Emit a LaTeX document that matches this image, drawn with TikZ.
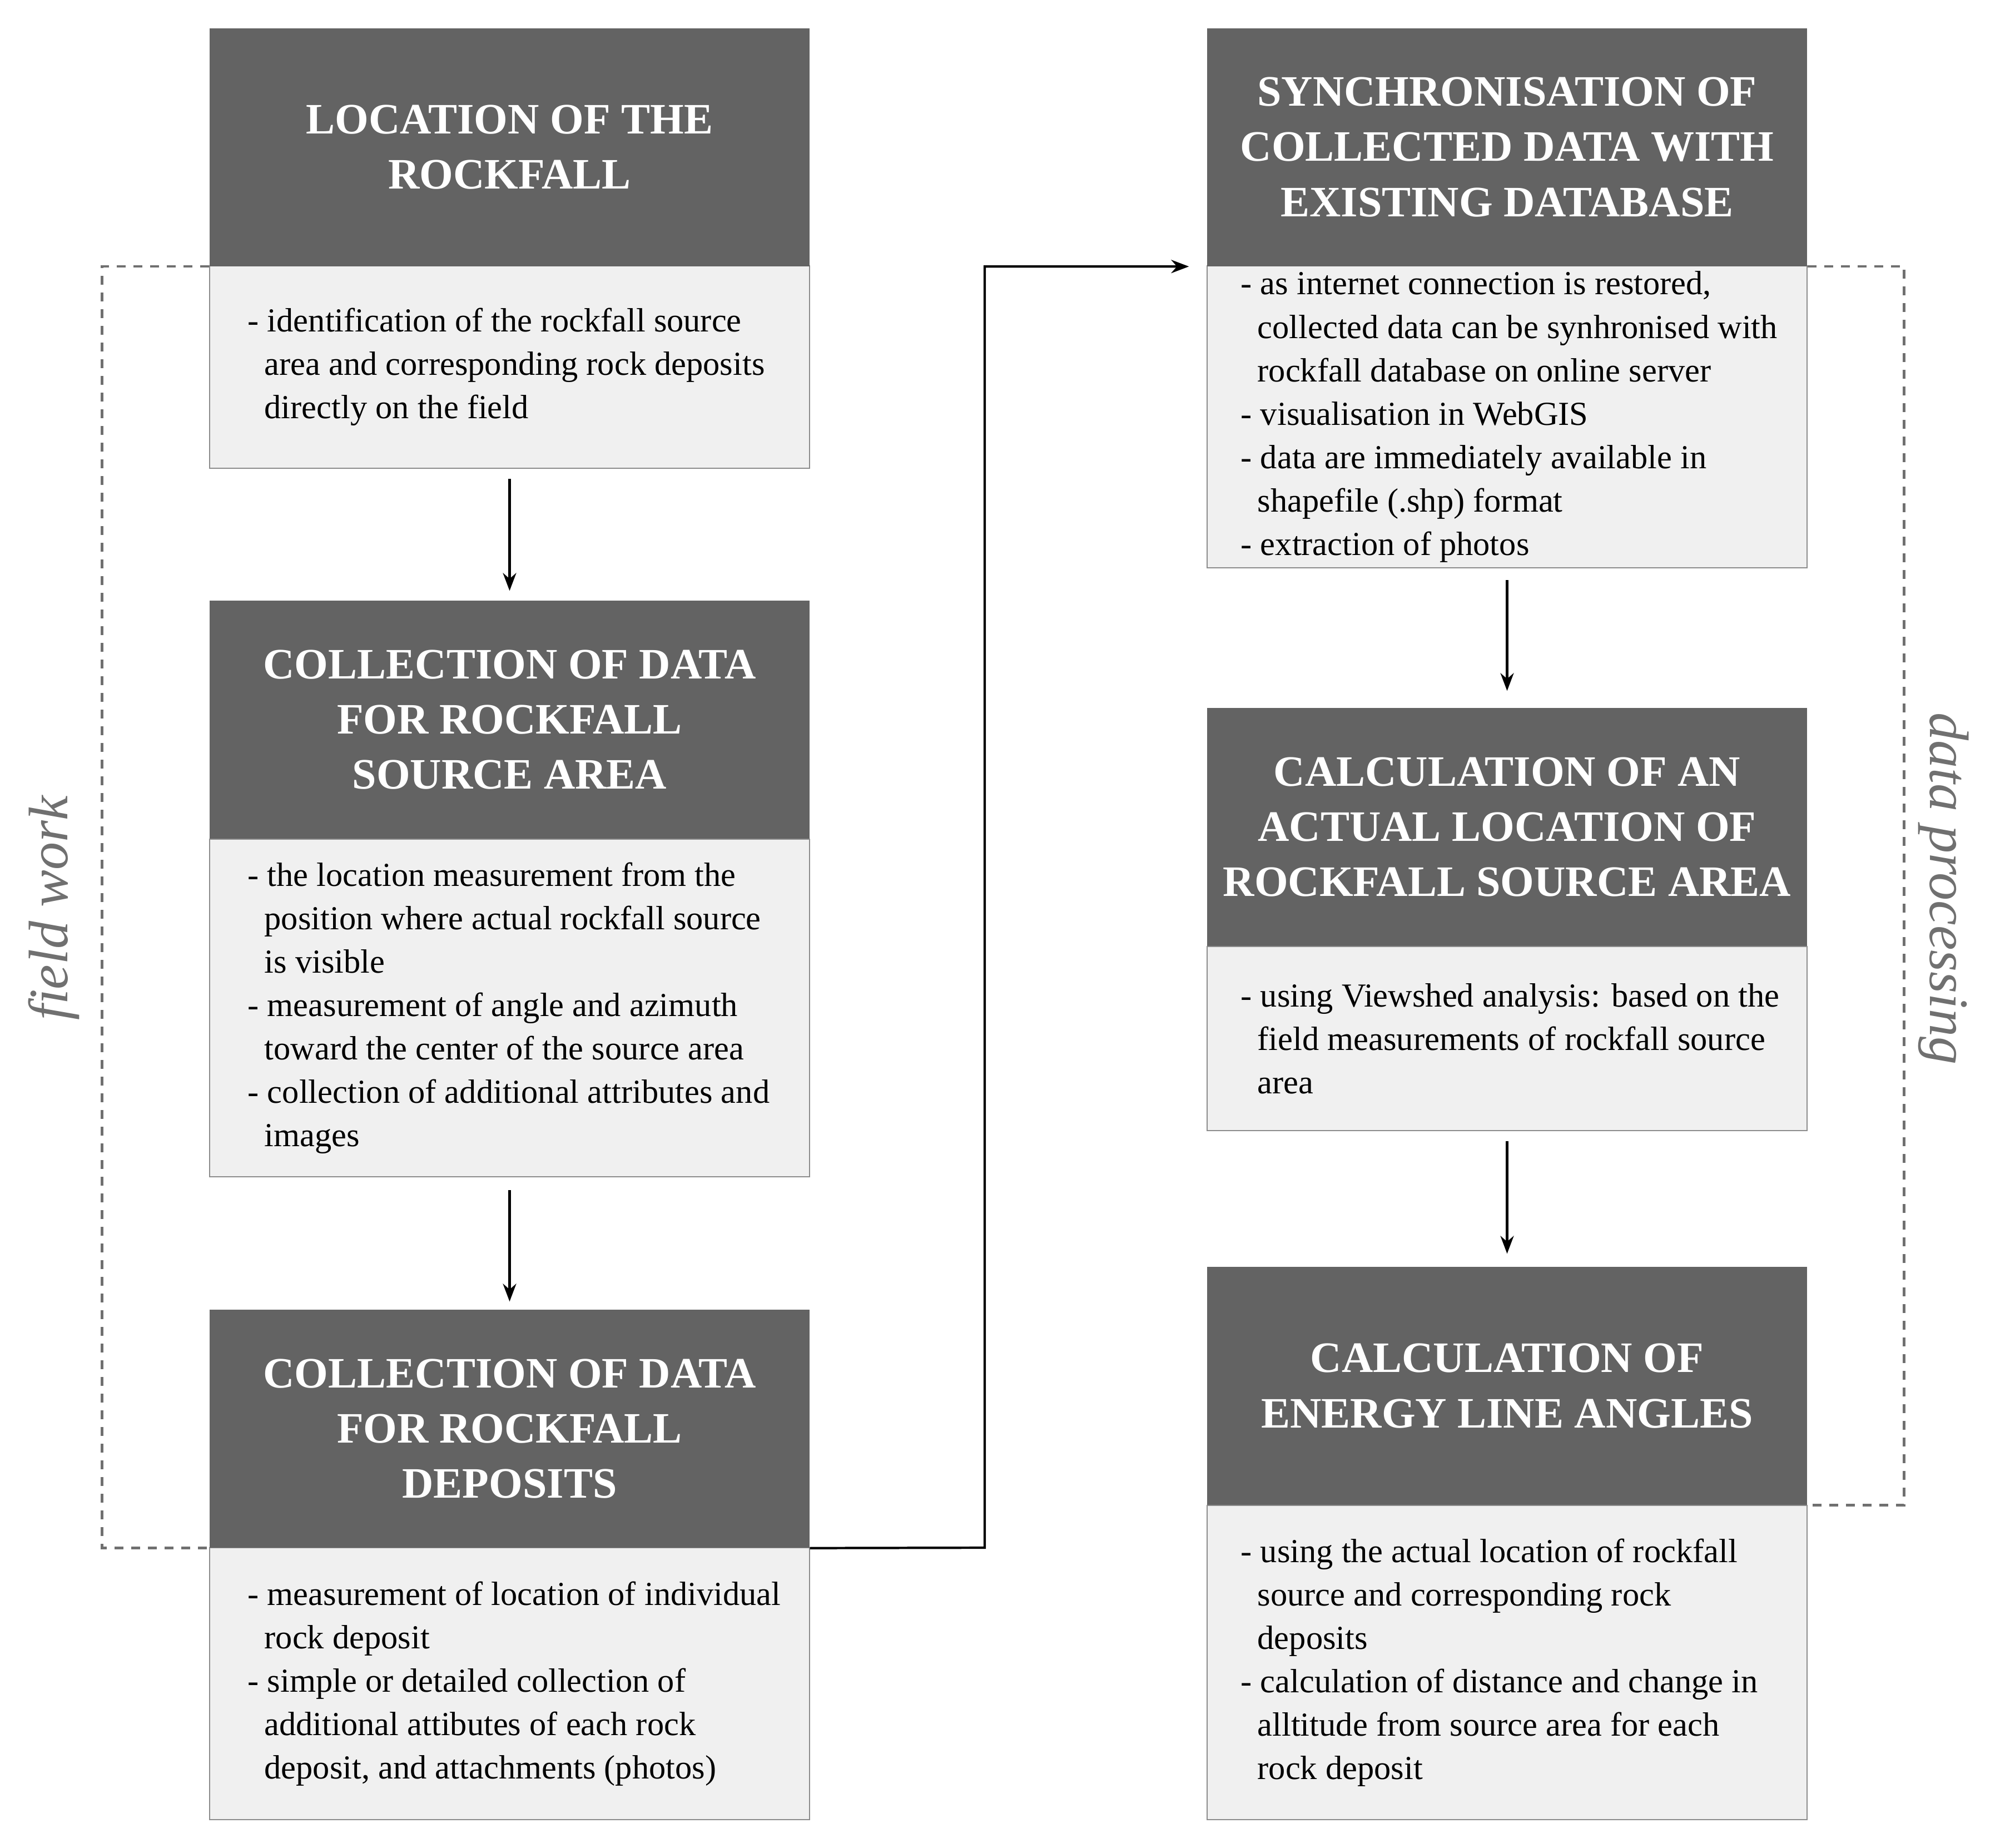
\documentclass[tikz,border=0pt]{standalone}
\usepackage{fontspec}
\setmainfont{Liberation Serif}
\usepackage{tikz}
\usetikzlibrary{arrows.meta}
\definecolor{hdrgray}{HTML}{636363}
\definecolor{bodygray}{HTML}{F0F0F0}
\definecolor{edgegray}{HTML}{8C8C8C}
\definecolor{zonegray}{HTML}{707070}
\newcommand{\ind}{\hspace*{0.3cm}}
\newcommand{\titlefont}{\fontsize{22.2}{28.2}\selectfont\bfseries}
\newcommand{\bodyfont}{\fontsize{17.2}{22.2}\selectfont}

\begin{document}
\begin{tikzpicture}[yscale=-1, >=Stealth,
  hdr/.style={fill=hdrgray, text=white, font=\titlefont, align=center, minimum width=10.79cm, minimum height=4.28cm, inner sep=0pt},
  bodybox/.style={fill=bodygray, draw=edgegray, line width=0.8pt, minimum width=10.79cm, inner sep=0pt},
  txt/.style={anchor=west, align=left, font=\bodyfont, inner sep=0pt},
  flow/.style={-{Stealth[length=0.32cm,width=0.24cm]}, line width=1.2pt},
  zone/.style={draw=zonegray, line width=1.3pt, dash pattern=on 0.16cm off 0.14cm},
  side/.style={text=zonegray, font=\fontsize{28.5}{30}\selectfont\itshape, inner sep=0pt}]
\useasboundingbox (0,0) rectangle (36.06,33.22);

% field work column
\node[bodybox, minimum height=3.64cm] (loc-b) at (9.165,6.60) {};
\node[hdr] (loc) at (9.165,2.645) {LOCATION OF THE\\ROCKFALL};
\node[txt] (loc-t) at (4.45,6.60) {- identification of the rockfall source\\
\ind area and corresponding rock deposits\\
\ind directly on the field};

\node[bodybox, minimum height=6.07cm] (src-b) at (9.165,18.125) {};
\node[hdr] (src) at (9.165,12.94) {COLLECTION OF DATA\\FOR ROCKFALL\\SOURCE AREA};
\node[txt] (src-t) at (4.45,18.125) {- the location measurement from the\\
\ind position where actual rockfall source\\
\ind is visible\\
- measurement of angle and azimuth\\
\ind toward the center of the source area\\
- collection of additional attributes and\\
\ind images};

\node[bodybox, minimum height=4.89cm] (dep-b) at (9.165,30.275) {};
\node[hdr] (dep) at (9.165,25.69) {COLLECTION OF DATA\\FOR ROCKFALL\\DEPOSITS};
\node[txt] (dep-t) at (4.45,30.275) {- measurement of location of individual\\
\ind rock deposit\\
- simple or detailed collection of\\
\ind additional attibutes of each rock\\
\ind deposit, and attachments (photos)};

% data processing column
\node[bodybox, minimum height=5.43cm] (sync-b) at (27.105,7.495) {};
\node[hdr] (sync) at (27.105,2.645) {SYNCHRONISATION OF\\COLLECTED DATA WITH\\EXISTING DATABASE};
\node[txt] (sync-t) at (22.31,7.495) {- as internet connection is restored,\\
\ind collected data can be synhronised with\\
\ind rockfall database on online server\\
- visualisation in WebGIS\\
- data are immediately available in\\
\ind shapefile (.shp) format\\
- extraction of photos};

\node[bodybox, minimum height=3.31cm] (calc-b) at (27.105,18.675) {};
\node[hdr] (calc) at (27.105,14.87) {CALCULATION OF AN\\ACTUAL LOCATION OF\\ROCKFALL SOURCE AREA};
\node[txt] (calc-t) at (22.31,18.675) {- using Viewshed analysis: based on the\\
\ind field measurements of rockfall source\\
\ind area};

\node[bodybox, minimum height=5.65cm] (energy-b) at (27.105,29.895) {};
\node[hdr] (energy) at (27.105,24.92) {CALCULATION OF\\ENERGY LINE ANGLES};
\node[txt] (energy-t) at (22.31,29.895) {- using the actual location of rockfall\\
\ind source and corresponding rock\\
\ind deposits\\
- calculation of distance and change in\\
\ind alltitude from source area for each\\
\ind rock deposit};

% arrows
\draw[flow, shorten <=0.18cm, shorten >=0.17cm] (loc-b.south) -- (src.north);
\draw[flow, shorten <=0.23cm, shorten >=0.14cm] (src-b.south) -- (dep.north);
\draw[flow, shorten <=0.21cm, shorten >=0.30cm] (sync-b.south) -- (calc.north);
\draw[flow, shorten <=0.18cm, shorten >=0.23cm] (calc-b.south) -- (energy.north);
\coordinate (bend) at (17.71,27.83);
\draw[flow, shorten >=0.32cm] (dep.south east) -- (bend) |- (sync.south west);

% dashed groups
\draw[zone] (loc.south west) -- ++(-1.93,0) |- (dep.south west);
\draw[zone] (sync.south east) -- ++(1.74,0) |- (energy.south east);
\node[side, rotate=90] (fw) at (0.97,16.33) {field work};
\node[side, rotate=-90] (dp) at (34.96,15.98) {data processing};
\end{tikzpicture}
\end{document}
